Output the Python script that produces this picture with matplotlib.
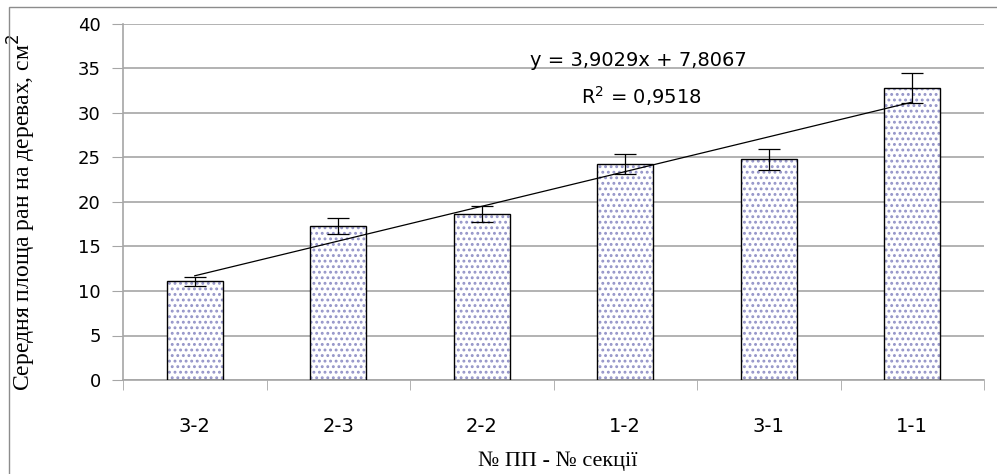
import matplotlib
matplotlib.use("Agg")
from matplotlib import pyplot as plt
from matplotlib.patches import Rectangle
import numpy as np

# data
categories = ["3-2", "2-3", "2-2", "1-2", "3-1", "1-1"]
values = [11.1, 17.3, 18.6, 24.3, 24.8, 32.8]
errors = [0.5, 0.9, 0.9, 1.1, 1.2, 1.7]
slope = 3.9029
intercept = 7.8067
r2_text = "0,9518"

fig = plt.figure(figsize=(9.97, 4.74), dpi=100)
ax = fig.add_axes([123 / 997, 1 - 380 / 474, (984 - 123) / 997, (380 - 24) / 474])

x = np.arange(1, len(categories) + 1)
grid_c = "#a6a6a6"

# dotted fill, then black outline on top
plt.rcParams["hatch.linewidth"] = 1.3
ax.bar(x, values, width=0.39, color="white", edgecolor="#9494c8",
       hatch="...", linewidth=0, zorder=2)
ax.bar(x, values, width=0.39, fill=False, edgecolor="black", linewidth=1.0, zorder=3)
ax.errorbar(x, values, yerr=errors, fmt="none", ecolor="black",
            elinewidth=0.9, capsize=8, capthick=0.9, zorder=4)

# linear trend
tx = np.array([1, 6])
ax.plot(tx, slope * tx + intercept, color="black", linewidth=0.9, zorder=5)

ax.set_xlim(0.5, 6.5)
ax.set_ylim(0, 40)
ax.set_yticks(range(0, 41, 5))
ax.set_xticks(x)
ax.set_xticklabels(categories, fontsize=14, family="DejaVu Sans")
ax.set_xticks(np.arange(0.5, 6.6, 1), minor=True)
ax.tick_params(axis="x", which="major", length=0, pad=27)
ax.tick_params(axis="x", which="minor", length=7, color=grid_c, direction="out")
ax.tick_params(axis="y", length=8, color=grid_c, labelsize=13, pad=8)
for lab in ax.get_yticklabels():
    lab.set_family("DejaVu Sans")
ax.yaxis.grid(True, color=grid_c, linewidth=1.2, zorder=0)
ax.set_axisbelow(True)
for s in ["top", "right"]:
    ax.spines[s].set_visible(False)
for s in ["left", "bottom"]:
    ax.spines[s].set_color(grid_c)
    ax.spines[s].set_linewidth(1.2)

ax.set_xlabel("№ ПП - № секції", fontsize=16, family="Liberation Serif")
ax.xaxis.set_label_coords((558 - 123) / 861, (380 - 452) / 356)
ax.set_ylabel("Середня площа ран на деревах, см$^2$", fontsize=17,
              family="Liberation Serif")
ax.yaxis.set_label_coords((38 - 123) / 861, 0.47)

ax.text(4.09, 35.95, "y = 3,9029x + 7,8067", fontsize=14, family="DejaVu Sans",
        ha="center", va="center", zorder=6)
ax.text(4.11, 31.95, "R$^2$ = " + r2_text, fontsize=14, family="DejaVu Sans",
        ha="center", va="center", zorder=6)

# outer chart frame
fig.patches.append(Rectangle((9 / 997, -0.1), 1.1, 1 - 7 / 474 + 0.1,
                             transform=fig.transFigure, fill=False,
                             edgecolor="#8c8c8c", linewidth=1.0))

fig.savefig("out.png", dpi=100)
